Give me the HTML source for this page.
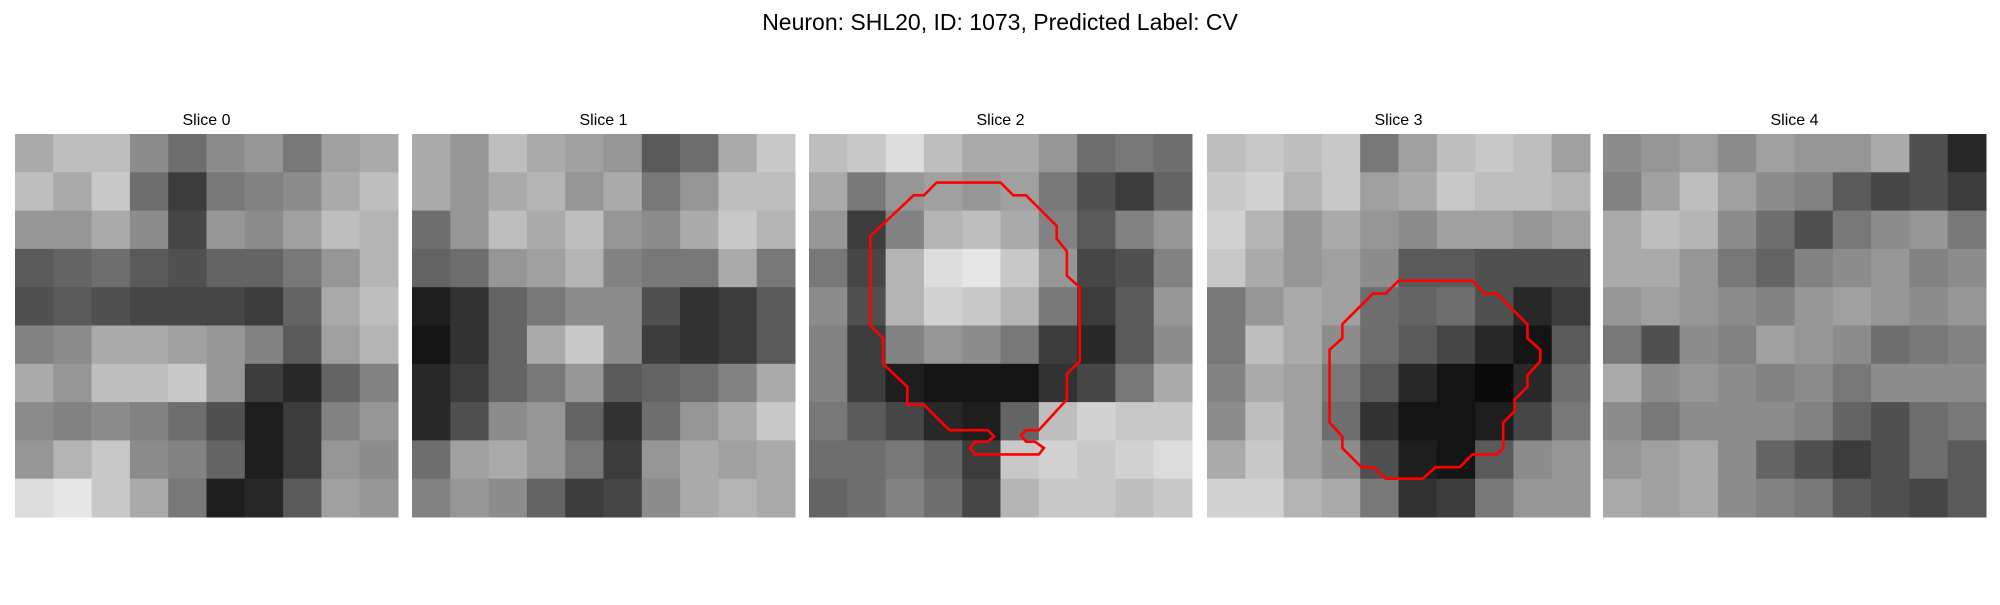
<!DOCTYPE html>
<html><head><meta charset="utf-8"><style>
body{margin:0;background:#fff;width:2000px;height:600px;overflow:hidden;font-family:"Liberation Sans","DejaVu Sans",sans-serif}
</style></head><body>
<svg id="fig" width="2000" height="600" xmlns="http://www.w3.org/2000/svg">
<text x="1000" y="30" text-anchor="middle" font-size="23" fill="#000">Neuron: SHL20, ID: 1073, Predicted Label: CV</text>
</svg>
<script>
const sliceTitles = ["Slice 0","Slice 1","Slice 2","Slice 3","Slice 4"];
const slice0 = [[170,190,190,140,110,140,150,120,160,170],[190,170,200,110,60,120,130,140,170,190],[150,150,170,140,70,150,140,160,190,180],[90,100,110,90,80,100,100,120,150,180],[80,90,80,70,70,70,60,100,170,190],[130,140,170,170,160,150,130,90,160,180],[170,150,190,190,200,150,60,40,100,130],[140,130,140,130,110,80,30,60,130,150],[150,180,200,140,130,100,30,60,150,140],[220,230,200,170,120,30,40,90,160,150]];
const slice1 = [[170,150,190,170,160,150,90,110,170,200],[170,150,170,180,150,170,120,150,190,190],[110,150,190,170,190,150,140,170,200,180],[100,110,150,160,180,130,120,120,170,120],[30,50,100,120,140,140,80,50,60,90],[20,50,100,170,200,140,60,50,60,90],[40,60,100,120,150,90,100,110,130,170],[40,80,140,150,100,50,110,150,170,200],[110,160,170,150,120,60,150,170,160,170],[130,150,140,100,60,70,140,170,180,170]];
const slice2 = [[190,200,220,190,170,170,150,110,120,110],[170,120,150,160,150,160,120,80,60,100],[150,60,130,180,190,170,130,90,130,150],[120,70,180,220,230,200,150,70,80,130],[140,80,180,210,200,180,120,60,90,150],[130,60,130,150,140,120,60,40,90,140],[130,60,30,20,20,20,50,70,120,170],[120,90,70,40,30,100,190,210,200,200],[110,110,120,100,60,200,210,200,210,220],[100,110,130,110,70,180,200,200,190,200]];
const slice3 = [[190,200,190,200,120,160,190,200,190,160],[200,210,180,200,160,170,200,190,190,180],[210,180,150,170,150,140,160,160,150,160],[200,170,150,160,140,90,90,80,80,80],[120,150,170,160,110,100,110,80,40,60],[120,190,170,140,110,90,70,40,20,90],[130,170,160,120,90,40,20,10,40,110],[140,190,160,110,50,20,20,30,70,120],[170,200,160,140,80,30,20,90,140,150],[210,210,180,170,120,50,60,120,150,150]];
const slice4 = [[140,150,160,140,160,150,150,170,80,40],[130,160,190,160,140,130,90,70,80,60],[170,190,180,140,110,80,120,140,150,120],[170,170,150,120,100,130,140,150,130,140],[150,160,150,140,130,150,160,150,140,150],[120,80,140,130,160,150,140,110,120,130],[170,140,150,140,130,140,120,140,140,140],[140,120,140,140,140,130,100,80,110,120],[150,160,170,140,100,80,60,80,110,90],[170,160,170,140,130,120,90,80,70,90]];
const contour2 = [[10,3.8],[9,4.8],[8.2,4.8],[4.8,8],[4.8,15],[5.8,16],[5.8,18],[7.7,19.8],[7.7,21.2],[9,21.2],[11,23.2],[14,23.2],[14.5,23.7],[14,24.1],[13,24.1],[12.6,24.6],[13,25.1],[18,25.1],[18.4,24.6],[17.7,24.1],[17,24.1],[16.6,23.6],[17,23.2],[18,23.2],[20.2,20.8],[20.2,18.8],[21.2,17.8],[21.2,12],[20.2,11.1],[20.2,9.2],[19.4,8.2],[19.4,7.2],[17,4.8],[16,4.8],[15,3.8]];
const contour3 = [[15,11.5],[20.8,11.5],[21.7,12.5],[22.7,12.5],[25.1,14.9],[25.1,16],[26.1,16.9],[26.1,17.8],[25.1,18.9],[25.1,19.8],[24.1,20.8],[24.1,21.7],[23.2,22.6],[23.2,24.6],[22.7,25.1],[20.8,25.1],[19.8,26.1],[17.9,26.1],[16.9,27],[14,27],[13,26.1],[12.1,26.1],[10.6,24.6],[10.6,23.7],[9.6,22.6],[9.6,16.9],[10.6,16],[10.6,14.9],[13,12.5],[14,12.5]];
const slices=[slice0,slice1,slice2,slice3,slice4];
const contours=[null,null,contour2,contour3,null];
const NS="http://www.w3.org/2000/svg";
const svg=document.getElementById('fig');
const panelX=[15,412,809,1207,1603], panelY=134, size=383;
slices.forEach((grid,i)=>{
  const g=document.createElementNS(NS,'g');
  
  
  const t=document.createElementNS(NS,'text');
  t.setAttribute('x',panelX[i]+size/2);t.setAttribute('y',125);t.setAttribute('text-anchor','middle');t.setAttribute('font-size','16');
  t.textContent=sliceTitles[i];
  
  
  g.appendChild(t);
  const img=document.createElementNS(NS,'g');
  
  
  const n=grid.length, c=size/n;
  grid.forEach((row,r)=>row.forEach((v,k)=>{
    const rc=document.createElementNS(NS,'rect');
    rc.setAttribute('x',panelX[i]+k*c);rc.setAttribute('y',panelY+r*c);
    rc.setAttribute('width',c+0.5);rc.setAttribute('height',c+0.5);
    rc.setAttribute('fill',`rgb(${v},${v},${v})`);
    
    
    img.appendChild(rc);
  }));
  g.appendChild(img);
  if(contours[i]){
    const f=size/30;
    const p=document.createElementNS(NS,'polygon');
    p.setAttribute('points',contours[i].map(q=>(panelX[i]+q[0]*f)+','+(panelY+q[1]*f)).join(' '));
    p.setAttribute('fill','none');p.setAttribute('stroke','#ff0000');p.setAttribute('stroke-width','2.6');
    
    
    g.appendChild(p);
  }
  svg.appendChild(g);
});
</script>
</body></html>
